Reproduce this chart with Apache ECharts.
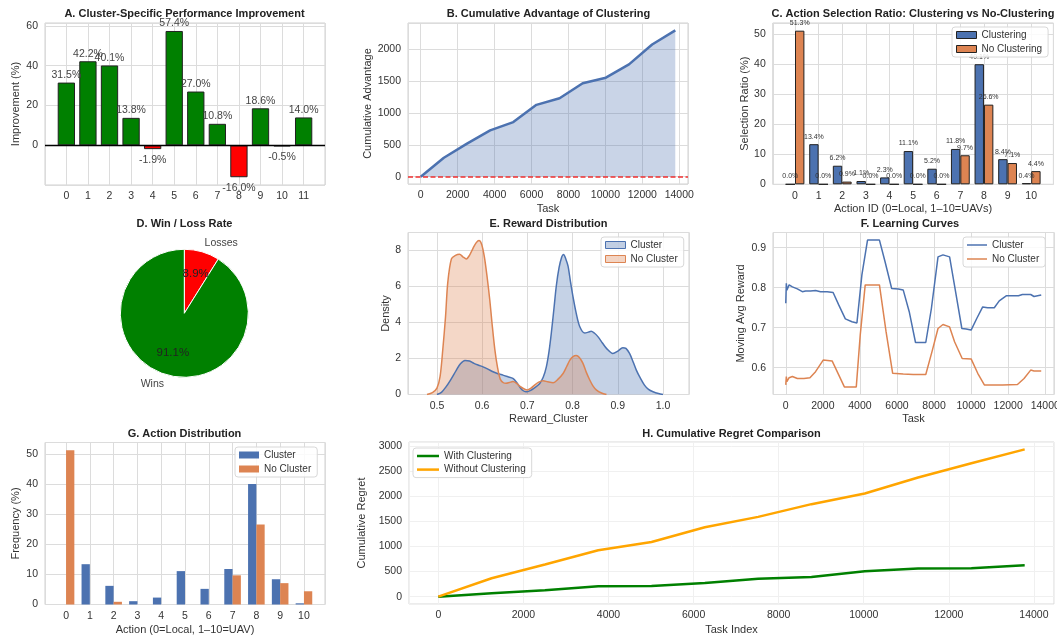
<!DOCTYPE html>
<html>
<head>
<meta charset="utf-8">
<script src="https://cdn.jsdelivr.net/npm/echarts@6/dist/echarts.min.js"></script>
<style>
  html, body { margin: 0; padding: 0; background: #fff; }
  #main { width: 1057px; height: 639px; }
</style>
</head>
<body>
<div id="main"></div>
<script>
// ---- values ----
const clusterIds = [0, 1, 2, 3, 4, 5, 6, 7, 8, 9, 10, 11];
const improvement = [31.5, 42.2, 40.1, 13.8, -1.9, 57.4, 27.0, 10.8, -16.0, 18.6, -0.5, 14.0];

const advTask = [0, 1253, 2506, 3759, 5012, 6265, 7518, 8771, 10024, 11277, 12530, 13783];
const advValue = [0, 297, 520, 729, 859, 1130, 1234, 1469, 1557, 1766, 2078, 2302];

const actions = [0, 1, 2, 3, 4, 5, 6, 7, 8, 9, 10];
const ratioCluster = [0.0, 13.4, 6.2, 1.1, 2.3, 11.1, 5.2, 11.8, 40.1, 8.4, 0.4];
const ratioNoCluster = [51.3, 0.0, 0.9, 0.0, 0.0, 0.0, 0.0, 9.7, 26.6, 7.1, 4.4];

const pieNames = ['Losses', 'Wins'];
const pieValues = [8.9, 91.1];

const kdeClusterX = [0.500, 0.510, 0.520, 0.530, 0.543, 0.552, 0.562, 0.572, 0.582, 0.592,
  0.602, 0.613, 0.624, 0.635, 0.646, 0.657, 0.668, 0.676, 0.683, 0.690, 0.697, 0.705, 0.715,
  0.727, 0.735, 0.742, 0.748, 0.753, 0.759, 0.764, 0.770, 0.776, 0.780, 0.785, 0.790, 0.795,
  0.801, 0.808, 0.816, 0.827, 0.835, 0.841, 0.848, 0.856, 0.866, 0.875, 0.889, 0.900, 0.911,
  0.918, 0.926, 0.934, 0.941, 0.950, 0.959, 0.968, 0.978, 0.990, 1.000];
const kdeClusterY = [0.00, 0.12, 0.42, 0.80, 1.35, 1.70, 1.88, 1.85, 1.72, 1.62,
  1.53, 1.40, 1.26, 1.15, 1.07, 0.98, 0.89, 0.68, 0.42, 0.22, 0.15, 0.20, 0.35,
  0.60, 0.95, 1.53, 2.40, 3.40, 4.80, 6.00, 7.00, 7.60, 7.75, 7.50, 7.10, 6.30,
  5.40, 4.50, 3.75, 3.40, 3.45, 3.50, 3.40, 3.20, 2.85, 2.55, 2.27, 2.40, 2.59,
  2.55, 2.27, 1.80, 1.35, 0.90, 0.52, 0.28, 0.15, 0.05, 0.00];

const kdeNoClusterX = [0.478, 0.490, 0.500, 0.507, 0.513, 0.519, 0.524, 0.532, 0.541, 0.550,
  0.558, 0.565, 0.572, 0.580, 0.587, 0.593, 0.599, 0.605, 0.611, 0.617, 0.622, 0.628, 0.634,
  0.640, 0.647, 0.653, 0.660, 0.668, 0.676, 0.683, 0.692, 0.700, 0.708, 0.716, 0.725, 0.735,
  0.745, 0.757, 0.768, 0.779, 0.787, 0.794, 0.801, 0.808, 0.815, 0.823, 0.830, 0.838, 0.845,
  0.853, 0.864, 0.875];
const kdeNoClusterY = [0.00, 0.10, 0.35, 1.00, 2.50, 4.30, 6.20, 7.50, 7.70, 7.76,
  7.60, 7.50, 7.70, 8.10, 8.40, 8.52, 8.30, 7.60, 6.50, 5.20, 3.90, 2.50, 1.50,
  0.85, 0.65, 0.62, 0.66, 0.72, 0.62, 0.46, 0.32, 0.25, 0.35, 0.52, 0.68, 0.76,
  0.70, 0.65, 0.85, 1.16, 1.55, 1.90, 2.10, 2.16, 2.05, 1.72, 1.25, 0.80, 0.48,
  0.24, 0.08, 0.00];

const lcClusterTask = [0, 30, 60, 180, 357, 625, 893, 1071, 1339, 1607, 1875, 2232, 2554, 2857,
  3214, 3571, 3839, 4107, 4411, 5054, 5357, 5714, 6071, 6339, 6661, 7000, 7554, 7857, 8214,
  8482, 8839, 9161, 9500, 9732, 10000, 10304, 10625, 10893, 11250, 11518, 11911, 12232, 12554,
  12768, 13214, 13393, 13783];
const lcClusterReward = [0.761, 0.811, 0.794, 0.807, 0.802, 0.797, 0.790, 0.792, 0.792, 0.793,
  0.790, 0.790, 0.788, 0.757, 0.722, 0.715, 0.712, 0.832, 0.919, 0.919, 0.865, 0.798, 0.797,
  0.794, 0.740, 0.663, 0.663, 0.748, 0.877, 0.882, 0.877, 0.790, 0.698, 0.697, 0.694, 0.723,
  0.752, 0.750, 0.750, 0.767, 0.780, 0.780, 0.780, 0.783, 0.783, 0.778, 0.782];

const lcNoClusterTask = [0, 30, 60, 180, 357, 625, 982, 1304, 1607, 2018, 2500, 2857, 3161, 3804,
  4018, 4286, 5054, 5411, 5768, 6339, 6875, 7554, 7911, 8214, 8482, 8839, 9107, 9518, 10000,
  10357, 10714, 11696, 12500, 12857, 13214, 13393, 13783];
const lcNoClusterReward = [0.557, 0.578, 0.565, 0.575, 0.578, 0.573, 0.573, 0.575, 0.590, 0.619,
  0.617, 0.582, 0.552, 0.552, 0.682, 0.807, 0.807, 0.690, 0.586, 0.584, 0.583, 0.583, 0.644,
  0.698, 0.708, 0.702, 0.665, 0.623, 0.622, 0.586, 0.557, 0.557, 0.558, 0.573, 0.594, 0.592,
  0.592];

const regretTask = [0, 1253, 2506, 3759, 5012, 6265, 7518, 8771, 10024, 11277, 12530, 13783];
const regretWith = [0, 66, 126, 206, 212, 272, 358, 391, 505, 560, 565, 625];
const regretWithout = [0, 365, 640, 922, 1088, 1380, 1587, 1840, 2051, 2369, 2655, 2930];

// ---- styling ----
const FONT = '"Liberation Sans", Arial, sans-serif';
const TXT = '#333';
const GRID_C = '#dcdcdc';
const BLUE = '#4c72b0';
const ORANGE = '#dd8452';
const GREEN = '#008000';
const RED = '#ff0000';

const pairs = (xs, ys) => xs.map((x, i) => [x, ys[i]]);
const plain = v => String(v);

function valueAxis(grid, min, max, step, opt = {}) {
  return {
    type: 'value', gridIndex: grid, min, max,
    minInterval: step, maxInterval: step,
    axisLine: { show: false }, axisTick: { show: false },
    axisLabel: {
      color: TXT, fontSize: 10.5, fontFamily: FONT, margin: opt.margin ?? 6,
      showMinLabel: !!opt.minLabel, showMaxLabel: false,
      formatter: opt.fmt || plain
    },
    splitLine: { lineStyle: { color: opt.gridColor || GRID_C, width: 1 } },
    name: opt.name, nameLocation: 'middle', nameGap: opt.nameGap,
    nameRotate: opt.vertical ? 90 : 0,
    nameTextStyle: { color: TXT, fontSize: 11, fontFamily: FONT }
  };
}

function gridBox(left, top, width, height, border) {
  return {
    left, top, width, height, show: true, containLabel: false, outerBoundsMode: 'none',
    borderColor: border || '#d0d0d0', borderWidth: 1, backgroundColor: '#fff'
  };
}

function title(text, x, y) {
  return {
    text, left: x, top: y, textAlign: 'center', textVerticalAlign: 'middle', padding: 0,
    textStyle: { fontSize: 11, fontWeight: 'bold', color: '#222', fontFamily: FONT }
  };
}

function legendBox(left, top, items, iconW, iconH, gap) {
  return {
    left, top, orient: 'vertical', selectedMode: false,
    itemWidth: iconW, itemHeight: iconH, itemGap: gap,
    padding: [3, 6, 3, 4],
    borderColor: '#d8d8d8', borderWidth: 1, borderRadius: 3,
    backgroundColor: 'rgba(255,255,255,0.85)',
    textStyle: { fontSize: 10, color: TXT, fontFamily: FONT },
    data: items
  };
}

const zeroLine = (color, width, type) => ({
  silent: true, symbol: ['none', 'none'], label: { show: false },
  lineStyle: { color, width, type }, data: [{ yAxis: 0 }]
});

const pctFmt = p => p.value[1].toFixed(1) + '%';

const option = {
  animation: false,
  backgroundColor: '#fff',
  textStyle: { fontFamily: FONT },
  title: [
    title('A. Cluster-Specific Performance Improvement', 184.5, 14),
    title('B. Cumulative Advantage of Clustering', 548.5, 14),
    title('C. Action Selection Ratio: Clustering vs No-Clustering', 913, 14),
    title('D. Win / Loss Rate', 184.5, 224),
    title('E. Reward Distribution', 548.5, 224),
    title('F. Learning Curves', 910, 224),
    title('G. Action Distribution', 184.5, 434),
    title('H. Cumulative Regret Comparison', 731.5, 434)
  ],
  grid: [
    gridBox(45, 23, 280, 162),
    gridBox(408, 23, 280, 161),
    gridBox(772.8, 23, 280.6, 161.3),
    gridBox(408, 232.5, 281, 162),
    gridBox(773, 232.5, 281, 162),
    gridBox(45, 442.5, 280, 162),
    gridBox(409, 442, 645, 162, '#d8d8d8')
  ],
  xAxis: [
    valueAxis(0, -0.99, 11.99, 1),
    valueAxis(1, -689, 14472, 2000, { name: 'Task', nameGap: 19 }),
    valueAxis(2, -0.94, 10.94, 1, { name: 'Action ID (0=Local, 1\u201310=UAVs)', nameGap: 19.5 }),
    valueAxis(3, 0.436, 1.0575, 0.1, { name: 'Reward_Cluster', nameGap: 19, fmt: v => v.toFixed(1) }),
    valueAxis(4, -689, 14472, 2000, { name: 'Task', nameGap: 19 }),
    valueAxis(5, -0.885, 10.885, 1, { name: 'Action (0=Local, 1\u201310=UAV)', nameGap: 20 }),
    valueAxis(6, -689, 14472, 2000, { name: 'Task Index', nameGap: 20, gridColor: '#f0f0f0' })
  ],
  yAxis: [
    valueAxis(0, -19.9, 61.4, 20, { name: 'Improvement (%)', nameGap: 24, vertical: true, margin: 7 }),
    valueAxis(1, -115, 2417, 500, { name: 'Cumulative Advantage', nameGap: 34, vertical: true, margin: 7 }),
    valueAxis(2, 0, 53.865, 10, { name: 'Selection Ratio (%)', nameGap: 22, vertical: true, minLabel: true, margin: 7 }),
    valueAxis(3, 0, 8.96, 2, { name: 'Density', nameGap: 17, vertical: true, minLabel: true, margin: 7 }),
    valueAxis(4, 0.533, 0.938, 0.1, { name: 'Moving Avg Reward', nameGap: 27, vertical: true, margin: 7, fmt: v => v.toFixed(1) }),
    valueAxis(5, 0, 53.865, 10, { name: 'Frequency (%)', nameGap: 24, vertical: true, minLabel: true, margin: 7 }),
    valueAxis(6, -146.5, 3076.5, 500, { name: 'Cumulative Regret', nameGap: 35, vertical: true, margin: 7, gridColor: '#f0f0f0' })
  ],
  legend: [
    legendBox(952, 27, [
      { name: 'Clustering', icon: 'rect', itemStyle: { color: BLUE, borderColor: '#222', borderWidth: 1 } },
      { name: 'No Clustering', icon: 'rect', itemStyle: { color: ORANGE, borderColor: '#222', borderWidth: 1 } }
    ], 20, 7, 4),
    legendBox(601, 237, [
      { name: 'Cluster', icon: 'rect', itemStyle: { color: 'rgba(76,114,176,0.35)', borderColor: BLUE, borderWidth: 1 } },
      { name: 'No Cluster', icon: 'rect', itemStyle: { color: 'rgba(221,132,82,0.35)', borderColor: ORANGE, borderWidth: 1 } }
    ], 20, 7, 4),
    legendBox(963, 237, [
      { name: 'Cluster', icon: 'rect', itemStyle: { color: BLUE, borderWidth: 0 } },
      { name: 'No Cluster', icon: 'rect', itemStyle: { color: ORANGE, borderWidth: 0 } }
    ], 20, 1.5, 4),
    legendBox(235, 447, [
      { name: 'Cluster', icon: 'rect', itemStyle: { color: BLUE, borderWidth: 0 } },
      { name: 'No Cluster', icon: 'rect', itemStyle: { color: ORANGE, borderWidth: 0 } }
    ], 20, 7, 4),
    legendBox(413, 448, [
      { name: 'With Clustering', icon: 'rect', itemStyle: { color: GREEN, borderWidth: 0 } },
      { name: 'Without Clustering', icon: 'rect', itemStyle: { color: '#ffa500', borderWidth: 0 } }
    ], 22, 2.5, 3.6)
  ],
  series: [
    // A
    {
      type: 'bar', name: 'Improvement', xAxisIndex: 0, yAxisIndex: 0, barWidth: 17.3,
      data: improvement.map((v, i) => ({
        value: [clusterIds[i], v],
        itemStyle: { color: v >= 0 ? GREEN : RED },
        label: { distance: v >= 0 ? 2 : 5 }
      })),
      itemStyle: { borderColor: '#222', borderWidth: 1 },
      label: { show: true, position: 'outside', formatter: pctFmt, fontSize: 10.5, color: '#444', fontFamily: FONT },
      markLine: zeroLine('#000', 1.3, 'solid')
    },
    // B
    {
      type: 'line', name: 'Advantage', xAxisIndex: 1, yAxisIndex: 1, symbol: 'none',
      data: pairs(advTask, advValue),
      lineStyle: { color: BLUE, width: 2.5 }, itemStyle: { color: BLUE },
      areaStyle: { color: BLUE, opacity: 0.3 },
      markLine: zeroLine('#f03030', 1.5, [5, 2.5])
    },
    // C
    {
      type: 'bar', name: 'Clustering', xAxisIndex: 2, yAxisIndex: 2, barWidth: 9.4, barGap: '0%',
      data: pairs(actions, ratioCluster),
      itemStyle: { color: BLUE, borderColor: '#222', borderWidth: 1 },
      label: { show: true, position: 'top', distance: 4, formatter: pctFmt, fontSize: 7, color: TXT, fontFamily: FONT }
    },
    {
      type: 'bar', name: 'No Clustering', xAxisIndex: 2, yAxisIndex: 2, barWidth: 9.4, barGap: '0%',
      data: pairs(actions, ratioNoCluster),
      itemStyle: { color: ORANGE, borderColor: '#222', borderWidth: 1 },
      label: { show: true, position: 'top', distance: 4, formatter: pctFmt, fontSize: 7, color: TXT, fontFamily: FONT }
    },
    // D
    {
      type: 'pie', name: 'WinLoss', center: [184.3, 313.3], radius: 64, startAngle: 90, clockwise: true,
      silent: true, label: { show: false }, labelLine: { show: false },
      data: pieNames.map((n, i) => ({ name: n, value: pieValues[i], itemStyle: { color: n === 'Wins' ? GREEN : RED } })),
      itemStyle: { borderColor: '#fff', borderWidth: 1 }
    },
    {
      type: 'pie', name: 'WinLossPct', center: [184.3, 313.3], radius: [0, 76.8], startAngle: 90, clockwise: true,
      silent: true, labelLine: { show: false },
      itemStyle: { color: 'rgba(0,0,0,0)' },
      label: { show: true, position: 'inside', formatter: p => p.percent.toFixed(1) + '%', fontSize: 11.5, color: '#222', fontFamily: FONT },
      data: pieNames.map((n, i) => ({ name: n, value: pieValues[i] }))
    },
    {
      type: 'pie', name: 'WinLossName', center: [184.3, 313.3], radius: [0, 140.8], startAngle: 90, clockwise: true,
      silent: true, labelLine: { show: false },
      itemStyle: { color: 'rgba(0,0,0,0)' },
      label: { show: true, position: 'inside', formatter: '{b}', fontSize: 10.5, color: '#444', fontFamily: FONT },
      labelLayout: p => ({ align: pieNames[p.dataIndex] === 'Wins' ? 'right' : 'left' }),
      data: pieNames.map((n, i) => ({ name: n, value: pieValues[i] }))
    },
    // E
    {
      type: 'line', name: 'Cluster', xAxisIndex: 3, yAxisIndex: 3, symbol: 'none', smooth: 0.3,
      data: pairs(kdeClusterX, kdeClusterY),
      lineStyle: { color: BLUE, width: 1.5 }, itemStyle: { color: BLUE },
      areaStyle: { color: BLUE, opacity: 0.32 }
    },
    {
      type: 'line', name: 'No Cluster', xAxisIndex: 3, yAxisIndex: 3, symbol: 'none', smooth: 0.3,
      data: pairs(kdeNoClusterX, kdeNoClusterY),
      lineStyle: { color: ORANGE, width: 1.5 }, itemStyle: { color: ORANGE },
      areaStyle: { color: ORANGE, opacity: 0.32 }
    },
    // F
    {
      type: 'line', name: 'Cluster', xAxisIndex: 4, yAxisIndex: 4, symbol: 'none',
      data: pairs(lcClusterTask, lcClusterReward),
      lineStyle: { color: BLUE, width: 1.5 }, itemStyle: { color: BLUE }
    },
    {
      type: 'line', name: 'No Cluster', xAxisIndex: 4, yAxisIndex: 4, symbol: 'none',
      data: pairs(lcNoClusterTask, lcNoClusterReward),
      lineStyle: { color: ORANGE, width: 1.5 }, itemStyle: { color: ORANGE }
    },
    // G
    {
      type: 'bar', name: 'Cluster', xAxisIndex: 5, yAxisIndex: 5, barWidth: 8.3, barGap: '0%',
      data: pairs(actions, ratioCluster), itemStyle: { color: BLUE }
    },
    {
      type: 'bar', name: 'No Cluster', xAxisIndex: 5, yAxisIndex: 5, barWidth: 8.3, barGap: '0%',
      data: pairs(actions, ratioNoCluster), itemStyle: { color: ORANGE }
    },
    // H
    {
      type: 'line', name: 'With Clustering', xAxisIndex: 6, yAxisIndex: 6, symbol: 'none',
      data: pairs(regretTask, regretWith),
      lineStyle: { color: GREEN, width: 2.5 }, itemStyle: { color: GREEN }
    },
    {
      type: 'line', name: 'Without Clustering', xAxisIndex: 6, yAxisIndex: 6, symbol: 'none',
      data: pairs(regretTask, regretWithout),
      lineStyle: { color: '#ffa500', width: 2.5 }, itemStyle: { color: '#ffa500' }
    }
  ]
};

const chart = echarts.init(document.getElementById('main'), null, { renderer: 'canvas' });
chart.setOption(option);
</script>
</body>
</html>
